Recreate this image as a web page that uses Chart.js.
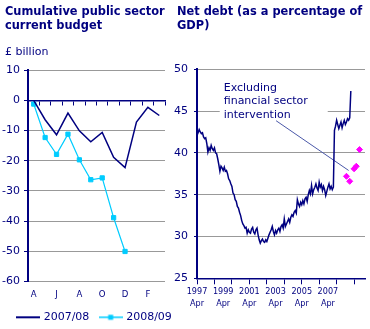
<!DOCTYPE html>
<html>
<head>
<meta charset="utf-8">
<script src="https://cdn.jsdelivr.net/npm/chart.js@4"></script>
<style>
  html, body { margin: 0; padding: 0; background: #fff; }
  body { width: 370px; height: 329px; position: relative; overflow: hidden; }
  canvas { position: absolute; top: 0; }
  #budget { left: 0; }
  #debt { left: 172px; }
</style>
</head>
<body>
<canvas id="budget" width="185" height="329"></canvas>
<canvas id="debt" width="198" height="329"></canvas>
<script>
// Cumulative public sector current budget, April to March, £ billion
const months = ['A', 'M', 'J', 'J', 'A', 'S', 'O', 'N', 'D', 'J', 'F', 'M'];
const budget0708 = [0, -6.4, -11.4, -4.2, -10.1, -13.7, -10.6, -18.9, -22.3, -7.2, -2.3, -5.0];
const budget0809 = [-1.2, -12.3, -17.9, -11.2, -19.7, -26.3, -25.7, -38.9, -50.1];

// Net debt as a percentage of GDP, monthly from April 1997
const debtYearLabels = ['1997', '1999', '2001', '2003', '2005', '2007'];
const netDebt = [
  42.1, 42.4, 42.8, 42.5, 42.3, 42.4, 41.9, 41.7, 41.8, 41.1, 40.1, 40.6,
  40.3, 40.9, 40.5, 40.3, 40.6, 40.0, 39.9, 39.3, 38.6, 37.8, 38.4, 38.2,
  37.9, 38.3, 37.8, 37.9, 37.5, 36.9, 36.7, 36.3, 36.0, 35.2, 35.0, 34.4,
  34.2, 33.6, 33.4, 32.9, 32.5, 31.9, 31.5, 31.3, 31.0, 31.1, 30.4, 30.8,
  30.5, 30.4, 30.9, 31.1, 30.5, 30.3, 30.8, 31.0, 30.2, 29.6, 29.2, 29.5,
  29.7, 29.4, 29.3, 29.6, 29.4, 29.8, 30.2, 30.5, 30.8, 31.2, 30.6, 30.2,
  30.7, 30.4, 30.8, 31.0, 30.6, 31.2, 31.4, 31.0, 32.1, 31.2, 31.5, 31.8,
  32.1, 31.7, 32.3, 32.6, 32.4, 32.9, 33.1, 32.8, 34.4, 33.9, 33.6, 34.1,
  33.8, 34.3, 33.9, 34.5, 34.7, 34.2, 35.0, 35.5, 35.1, 36.1, 35.1, 35.6,
  35.9, 36.3, 35.8, 35.5, 36.5, 35.9, 36.2, 35.5, 36.0, 35.6, 34.9, 35.4,
  35.9, 36.3, 35.7, 36.0, 35.6, 35.9, 42.7, 43.2, 43.9, 43.4, 42.9, 43.3,
  43.7, 43.0, 43.5, 43.9, 43.4, 43.7, 44.1, 43.9, 44.2, 47.4
];
// Net debt excluding financial sector intervention (month index, % of GDP)
const exFinMonths = [137, 140, 144, 146, 149];
const exFinValues = [37.2, 36.6, 38.1, 38.4, 40.4];

const NAVY = '#000080';
const CYAN = '#00CCFF';
const GRID = '#999999';
const PINK = '#FF00FF';
const FONT = '"DejaVu Sans", Verdana, sans-serif';
const NARROW = '"DejaVu Sans Condensed", "Liberation Sans", Arial, sans-serif';

Chart.defaults.font.family = FONT;
Chart.defaults.font.size = 11;
Chart.defaults.color = NAVY;
Chart.defaults.animation = false;

// Tick labels may sit slightly outside the axis box; don't clip them.
const noLabelClip = (s) => { s._computeLabelArea = () => undefined; };

// Small line-with-marker images used as legend keys
function legendKey(color, width, withSquare) {
  const c = document.createElement('canvas');
  c.width = 24; c.height = 8;
  const g = c.getContext('2d');
  g.strokeStyle = color;
  g.lineWidth = width;
  g.beginPath(); g.moveTo(0, 4); g.lineTo(24, 4); g.stroke();
  if (withSquare) { g.fillStyle = color; g.fillRect(9.5, 1.5, 5, 5); }
  return c;
}
const keys = [legendKey(NAVY, 2, false), legendKey(CYAN, 1.5, true)];

const titleOpts = (lines, bottom) => ({
  display: true,
  text: lines,
  align: 'start',
  color: NAVY,
  font: { family: FONT, size: 11.4, weight: 'bold', lineHeight: 1.25 },
  padding: { top: 5, bottom: bottom }
});

// Left panel: cumulative budget
new Chart(document.getElementById('budget'), {
  type: 'line',
  data: {
    labels: months,
    datasets: [
      { label: '2007/08', data: budget0708, borderColor: NAVY, borderWidth: 1.5,
        pointRadius: 0, tension: 0 },
      { label: '2008/09', data: budget0809, borderColor: CYAN, backgroundColor: CYAN,
        borderWidth: 1.2, pointStyle: 'rect', pointRadius: 3, pointBorderWidth: 1,
        pointBackgroundColor: CYAN, pointBorderColor: CYAN, tension: 0 }
    ]
  },
  options: {
    responsive: false,
    layout: { padding: { left: 5, right: 0, top: 0, bottom: -3.8 } },
    plugins: {
      title: titleOpts(['Cumulative public sector', 'current budget'], 6),
      subtitle: {
        display: true, text: '£ billion', align: 'start', color: NAVY,
        font: { family: FONT, size: 11, lineHeight: 1.2 },
        padding: { top: 5.9, bottom: 11.7 }
      },
      legend: {
        position: 'bottom',
        labels: {
          usePointStyle: true,
          pointStyleWidth: 20,
          padding: 11.3,
          color: NAVY,
          font: { family: FONT, size: 11 },
          generateLabels: (chart) => chart.data.datasets.map((ds, i) => ({
            text: ds.label, pointStyle: keys[i], fontColor: NAVY,
            fillStyle: 'transparent', strokeStyle: 'transparent', lineWidth: 0,
            hidden: false, datasetIndex: i
          }))
        }
      },
      tooltip: { enabled: false }
    },
    scales: {
      x: {
        type: 'category',
        position: 'bottom',
        offset: true,
        grid: { display: false, drawTicks: false },
        border: { display: false },
        ticks: {
          autoSkip: false, maxRotation: 0, minRotation: 0, padding: 7.6,
          color: NAVY, font: { family: NARROW, size: 9.5, lineHeight: 1.2 },
          callback: (v, i) => (i % 2 === 0 ? months[i] : '')
        },
        afterFit: (s) => { s.height = 19.2; }
      },
      x0: {
        type: 'category',
        axis: 'x',
        position: { y: 0 },
        offset: true,
        grid: { offset: true, drawOnChartArea: false, drawTicks: true, tickLength: 4,
                tickColor: NAVY, lineWidth: 1 },
        border: { color: NAVY, width: 1.5 },
        ticks: { display: false }
      },
      y: {
        min: -60, max: 10,
        ticks: { stepSize: 10, padding: 4, color: NAVY, font: { family: FONT, size: 11 } },
        grid: {
          color: (c) => (c.tick && c.tick.value === 0 ? NAVY : GRID),
          lineWidth: 1, tickLength: 4, tickColor: NAVY
        },
        border: { color: NAVY, width: 2 },
        afterFit: (s) => { s.width = 23; noLabelClip(s); }
      },
      // empty margin column on the right of the plot
      yPad: {
        axis: 'y',
        position: 'right',
        display: true,
        ticks: { display: false },
        grid: { display: false, drawTicks: false },
        border: { display: false },
        afterFit: (s) => { s.width = 20; }
      }
    }
  }
});

// Callout text and pointer for the excluding-financial-sector series
const noteLines = ['Excluding', 'financial sector', 'intervention'];
const noteAt = { month: 24.5, value: 47.8 };
const pointerFrom = { month: 72.5, value: 43.85 };
const pointerTo = { month: 139, value: 37.9 };

const calloutPlugin = {
  id: 'callout',
  beforeDatasetsDraw(chart) {
    const { ctx, scales: { x, y } } = chart;
    const tx = x.getPixelForValue(noteAt.month);
    const ty = y.getPixelForValue(noteAt.value);
    const lh = 13.7;
    ctx.save();
    ctx.fillStyle = '#ffffff';
    ctx.fillRect(tx - 4, ty - 9, 108, lh * 2 + 18);
    ctx.strokeStyle = '#4a58a8';
    ctx.lineWidth = 1;
    ctx.beginPath();
    ctx.moveTo(x.getPixelForValue(pointerFrom.month), y.getPixelForValue(pointerFrom.value));
    ctx.lineTo(x.getPixelForValue(pointerTo.month), y.getPixelForValue(pointerTo.value));
    ctx.stroke();
    ctx.fillStyle = NAVY;
    ctx.font = '11px ' + FONT;
    ctx.textAlign = 'left';
    ctx.textBaseline = 'middle';
    noteLines.forEach((t, i) => ctx.fillText(t, tx, ty + i * lh));
    ctx.restore();
  }
};

const labelStep = 24;   // months between year labels
const markStep = 16;    // months between tick marks
const monthsShown = 154;

// Right panel: net debt
new Chart(document.getElementById('debt'), {
  type: 'line',
  data: {
    datasets: [
      { label: 'Net debt', data: netDebt.map((v, i) => ({ x: i, y: v })),
        borderColor: NAVY, borderWidth: 1.5, pointRadius: 0, tension: 0 },
      { label: 'Excluding financial sector intervention',
        data: exFinMonths.map((m, i) => ({ x: m, y: exFinValues[i] })),
        showLine: false, pointStyle: 'rectRot', pointRadius: 3, pointBorderWidth: 1,
        pointBackgroundColor: PINK, pointBorderColor: PINK }
    ]
  },
  options: {
    responsive: false,
    layout: { padding: { left: 5, right: 0, top: 0, bottom: 0 } },
    plugins: {
      title: titleOpts(['Net debt (as a percentage of', 'GDP)'], 35.8),
      legend: { display: false },
      tooltip: { enabled: false }
    },
    scales: {
      x: {
        type: 'linear',
        min: 0, max: monthsShown,
        afterBuildTicks: (s) => {
          const vals = new Set();
          debtYearLabels.forEach((_, i) => vals.add(i * labelStep));
          for (let m = 0; m <= monthsShown; m += markStep) vals.add(m);
          s.ticks = [...vals].sort((a, b) => a - b).map((v) => ({ value: v }));
        },
        ticks: {
          autoSkip: false, maxRotation: 0, minRotation: 0, padding: 1.7,
          color: NAVY, font: { family: NARROW, size: 9, lineHeight: 1.29 },
          callback: (v) => {
            const k = v / labelStep;
            return Number.isInteger(k) && k < debtYearLabels.length ? [debtYearLabels[k], 'Apr'] : '';
          }
        },
        grid: {
          drawOnChartArea: false, drawTicks: true, tickLength: 6, lineWidth: 1,
          tickColor: (c) => (c.tick && c.tick.value % markStep === 0 ? NAVY : 'rgba(0,0,0,0)')
        },
        border: { color: NAVY, width: 1.5 },
        afterFit: (s) => { s.height = 50.7; }
      },
      y: {
        min: 25, max: 50,
        ticks: { stepSize: 5, padding: 6, color: NAVY, font: { family: FONT, size: 11 } },
        grid: {
          color: (c) => (c.tick && c.tick.value === 25 ? 'rgba(0,0,0,0)' : GRID),
          lineWidth: 1, tickLength: 3, tickColor: NAVY
        },
        border: { color: NAVY, width: 2 },
        afterFit: (s) => { s.width = 20; noLabelClip(s); }
      }
    }
  },
  plugins: [calloutPlugin]
});
</script>
</body>
</html>
